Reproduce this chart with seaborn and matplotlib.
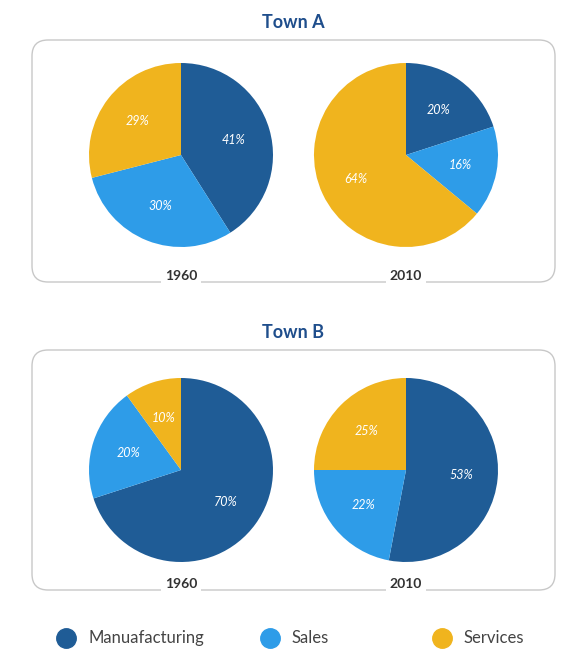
import matplotlib
matplotlib.use("Agg")
import matplotlib.pyplot as plt
import seaborn as sns
from matplotlib.patches import FancyBboxPatch
from matplotlib.lines import Line2D

categories = ["Manuafacturing", "Sales", "Services"]
town_a_1960 = [41, 30, 29]
town_a_2010 = [20, 16, 64]
town_b_1960 = [70, 20, 10]
town_b_2010 = [53, 22, 25]
years = ["1960", "2010"]
towns = ["Town A", "Town B"]

sns.set_theme(style="white")
colors = ["#1f5c96", "#2e9ce8", "#f0b41e"]
sns.set_palette(colors)
plt.rcParams['font.family'] = ['Lato', 'DejaVu Sans']

W, H = 583, 663
fig = plt.figure(figsize=(W/100, H/100), dpi=100)
tc = "#1f4e8c"

def fx(x): return x / W
def fy(y): return 1 - y / H

for (y0, y1) in [(40, 282), (350, 590)]:
    p = FancyBboxPatch(((32)/100, (H - y1)/100), (555-32)/100, (y1-y0)/100,
                       boxstyle="round,pad=0,rounding_size=0.16",
                       transform=fig.dpi_scale_trans, fill=False,
                       edgecolor="#c8c8c8", linewidth=1.0)
    fig.patches.append(p)

fig.text(fx(293), fy(22), towns[0], ha="center", va="center", fontsize=13, fontweight="bold", color=tc)
fig.text(fx(293), fy(333), towns[1], ha="center", va="center", fontsize=13, fontweight="bold", color=tc)

data = [[town_a_1960, town_a_2010], [town_b_1960, town_b_2010]]
cys = [155, 470]
cxs = [181, 406]
R = 92
for i, cy in enumerate(cys):
    for j, cx in enumerate(cxs):
        ax = fig.add_axes([fx(cx - R), fy(cy + R), 2*R/W, 2*R/H])
        vals = data[i][j]
        ax.pie(vals, colors=colors, startangle=90, counterclock=False,
               autopct=lambda p: f"{p:.0f}%", pctdistance=0.6,
               textprops=dict(color="white", fontsize=9, style="italic"),
               wedgeprops=dict(linewidth=0))
        ax.set_xlim(-1, 1)
        ax.set_ylim(-1, 1)
        ax.set_aspect("equal")
        ax.axis("off")
        ly = [276, 584][i]
        fig.text(fx(cx), fy(ly), years[j], ha="center", va="center", fontsize=10,
                 fontweight="bold", color="#333333",
                 bbox=dict(facecolor="white", edgecolor="none", pad=3))

for (x, lab, c) in zip([66, 270, 442], categories, colors):
    fig.add_artist(Line2D([fx(x)], [fy(638)], marker="o", markersize=14,
                          color=c, transform=fig.transFigure, linestyle="none"))
    fig.text(fx(x + 22), fy(638), lab, ha="left", va="center", fontsize=12, color="#444444")

fig.savefig("out.png", dpi=100, facecolor="white")
